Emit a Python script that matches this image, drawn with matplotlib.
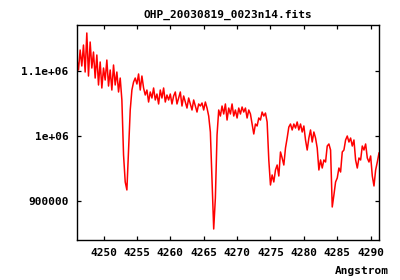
import matplotlib
matplotlib.use('Agg')
import numpy as np
from matplotlib import pyplot as plt

plt.rcParams['font.family'] = ['DejaVu Sans Mono']
plt.rcParams['font.weight'] = 'bold'

title = 'OHP_20030819_0023n14.fits'
x_label = 'Angstrom'

# wavelength grid of the spectrum (Angstrom), 0.25 A sampling
wl_start = 4246.0
wl_step = 0.25

# flux (one value per sample)
flux = [
    1119100, 1100800, 1131300, 1106900, 1138900, 1097700, 1157300, 1091600,
    1143500, 1103800, 1128200, 1088500, 1123700, 1077900, 1113000, 1073300,
    1103800, 1085500, 1116000, 1076300, 1100800, 1070200, 1108400, 1077900,
    1097700, 1067200, 1088500, 1055000, 971000, 929800, 917600, 978600,
    1039700, 1070200, 1082400, 1088500, 1079400, 1094700, 1070200, 1091600,
    1073300, 1062600, 1070200, 1051900, 1067200, 1058000, 1073300, 1055000,
    1064100, 1048900, 1070200, 1058000, 1073300, 1051900, 1062600, 1055000,
    1064100, 1048900, 1061100, 1067200, 1048900, 1058000, 1067200, 1045800,
    1061100, 1051900, 1042700, 1058000, 1048900, 1039700, 1055000, 1045800,
    1036600, 1048900, 1045800, 1050400, 1039700, 1051900, 1042700, 1030500,
    1006100, 932800, 858000, 905300, 1001500, 1039700, 1030500, 1045800,
    1033600, 1048900, 1024400, 1042700, 1033600, 1048900, 1030500, 1039700,
    1027500, 1042700, 1033600, 1044300, 1036600, 1042700, 1027500, 1039700,
    1033600, 1018300, 1003100, 1018300, 1015300, 1027500, 1024400, 1036600,
    1030500, 1035100, 1021400, 963400, 925200, 940500, 929800, 948100,
    955700, 938900, 975600, 966400, 955700, 981700, 996900, 1013700,
    1018300, 1009200, 1018300, 1012200, 1021400, 1009200, 1018300, 1006100,
    1015300, 993900, 978600, 996900, 1009200, 990800, 1006100, 996900,
    981700, 948100, 963400, 951100, 963400, 960300, 984700, 987800,
    978600, 891600, 909900, 929800, 935900, 951100, 945000, 975600,
    978600, 993900, 1000000, 990800, 996900, 984700, 993900, 963400,
    951100, 966400, 963400, 984700, 978600, 987800, 966400, 960300,
    969500, 938900, 923700, 948100, 960300, 974000,
]

x_ticks = [4250, 4255, 4260, 4265, 4270, 4275, 4280, 4285, 4290]
y_ticks = [900000, 1000000, 1100000]
y_tick_labels = ['900000', '1e+06', '1.1e+06']

wl = wl_start + wl_step * np.arange(len(flux))

fig = plt.figure(figsize=(4, 2.8), dpi=100)
ax = fig.add_axes([0.1925, 0.1429, 0.7558, 0.7678])
ax.plot(wl, flux, color='#ff0000', lw=1.1)

ax.set_xlim(4246.03, 4291.3)
ax.set_ylim(841200, 1169500)
ax.set_xticks(x_ticks)
ax.set_xticklabels([str(t) for t in x_ticks])
ax.set_yticks(y_ticks)
ax.set_yticklabels(y_tick_labels)
ax.tick_params(direction='in', length=3.2, width=0.9, top=True, right=True,
               labelsize=8, pad=6, colors='black')
for s in ax.spines.values():
    s.set_linewidth(1.0)

ax.set_title(title, fontsize=8, fontweight='bold', pad=5)
fig.text(389 / 400, 0.032, x_label, ha='right', va='center',
         fontsize=8, fontweight='bold')

fig.savefig('out.png', dpi=100)
